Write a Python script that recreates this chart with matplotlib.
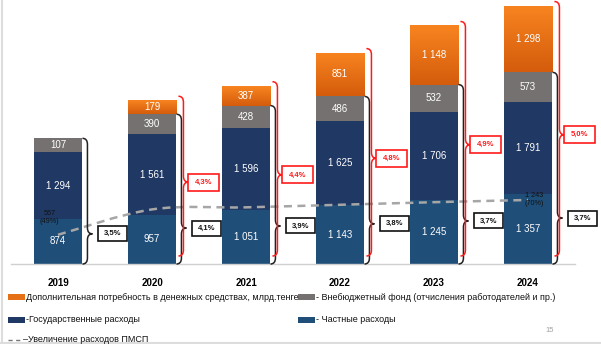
import numpy as np
import matplotlib
matplotlib.use('Agg')
import matplotlib.pyplot as plt
from matplotlib.patches import Rectangle, PathPatch
from matplotlib.path import Path
from matplotlib.lines import Line2D

plt.rcParams['font.family'] = ['Liberation Sans', 'DejaVu Sans']

# ---------------- data ----------------
years = ['2019', '2020', '2021', '2022', '2023', '2024']
private = [874, 957, 1051, 1143, 1245, 1357]
government = [1294, 1561, 1596, 1625, 1706, 1791]
offbudget = [107, 390, 428, 486, 532, 573]
additional = [0, 179, 387, 851, 1148, 1298]
black_pct = ['3,5%', '4,1%', '3,9%', '3,8%', '3,7%', '3,7%']
red_pct = [None, '4,3%', '4,4%', '4,8%', '4,9%', '5,0%']
pmsp = [567, 1060, 1100, 1150, 1200, 1243]
pmsp_first_label = '567\n(49%)'
pmsp_last_label = '1 243\n(70%)'

legend_labels = [
    'Дополнительная потребность в денежных средствах, млрд.тенге',
    '- Внебюджетный фонд (отчисления работодателей и пр.)',
    '-Государственные расходы',
    '- Частные расходы',
    '–Увеличение расходов ПМСП',
]

# ---------------- style ----------------
C_PRIV = '#1F4E79'
C_GOV = '#203864'
C_OFF = '#767171'
C_ADD_TOP = np.array([248, 132, 32]) / 255
C_ADD_BOT = np.array([212, 92, 12]) / 255
C_RED = '#FF1A1A'
C_LINE = '#A6A6A6'

W, H = 601, 344
fig = plt.figure(figsize=(W / 100, H / 100), dpi=100)
ax_left, ax_bottom, ax_w, ax_h = 11, 80, 564, 264
ax = fig.add_axes([ax_left / W, ax_bottom / H, ax_w / W, ax_h / H])
YMAX = 5126
ax.set_xlim(-0.5, 5.5)
ax.set_ylim(0, YMAX)
px_x = 6 / ax_w          # data units per pixel in x
px_y = YMAX / ax_h       # data units per pixel in y

bw = 0.52
MIN_SEG = 14 * px_y      # minimum drawn height so a label fits

def fmt(v):
    return f'{v:,}'.replace(',', ' ')

x = np.arange(len(years))
seg_tops_black = []
seg_tops_total = []
for i in range(len(years)):
    base = 0
    for vals, col in [(private, C_PRIV), (government, C_GOV), (offbudget, C_OFF), (additional, None)]:
        v = vals[i]
        if v <= 0:
            continue
        h = max(v, MIN_SEG)
        x0 = x[i] - bw / 2
        if col is None:
            rect = Rectangle((x0, base), bw, h, facecolor='none', edgecolor='none')
            ax.add_patch(rect)
            grad = np.linspace(0, 1, 64)[:, None, None]
            img = C_ADD_BOT[None, None, :] * (1 - grad) + C_ADD_TOP[None, None, :] * grad
            im = ax.imshow(img, extent=[x0, x0 + bw, base, base + h], origin='lower',
                           aspect='auto', interpolation='bilinear', zorder=2)
            im.set_clip_path(rect)
        else:
            ax.add_patch(Rectangle((x0, base), bw, h, facecolor=col, edgecolor='none', zorder=2))
        ax.text(x[i], base + h / 2, fmt(v), color='white', ha='center', va='center',
                fontsize=7, zorder=5)
        base += h
        if vals is offbudget:
            seg_tops_black.append(base)
    seg_tops_total.append(base)

ax.set_xlim(-0.5, 5.5)
ax.set_ylim(0, YMAX)


def brace(ax, xr, xv, xt, ytop, ybot, ytip, color, r):
    verts = [(xr, ytop), (xv, ytop), (xv, ytop - r),
             (xv, ytip + r), (xv, ytip), (xt, ytip),
             (xv, ytip), (xv, ytip - r),
             (xv, ybot + r), (xv, ybot), (xr, ybot)]
    codes = [Path.MOVETO, Path.CURVE3, Path.CURVE3,
             Path.LINETO, Path.CURVE3, Path.CURVE3,
             Path.CURVE3, Path.CURVE3,
             Path.LINETO, Path.CURVE3, Path.CURVE3]
    ax.add_patch(PathPatch(Path(verts, codes), facecolor='none', edgecolor=color,
                           lw=1.1, clip_on=False, zorder=4))


def box(ax, xl, yc, w, h, text, color, tcolor):
    ax.add_patch(Rectangle((xl, yc - h / 2), w, h, facecolor='white', edgecolor=color,
                           lw=1.2, clip_on=False, zorder=6))
    ax.text(xl + w / 2, yc, text, color=tcolor, ha='center', va='center', fontsize=5.5,
            fontweight='bold', zorder=7, clip_on=False)


r = 6 * px_y
for i in range(len(years)):
    R = x[i] + bw / 2
    # black brace
    yb = seg_tops_black[i]
    ytip = 0.24 * yb
    brace(ax, R, R + 5 * px_x, R + 10 * px_x, yb, 0, ytip, '#222222', r)
    box(ax, R + 16 * px_x, ytip, 29 * px_x, 15 * px_y, black_pct[i], '#111111', '#111111')
    # red brace
    if red_pct[i]:
        yt = seg_tops_total[i] + 4 * px_y
        ytip_r = 0.5 * seg_tops_total[i]
        brace(ax, R + 2 * px_x, R + 7 * px_x, R + 12 * px_x, yt, 8 * px_y, ytip_r, C_RED, r)
        box(ax, R + 12 * px_x, ytip_r, 31 * px_x, 17 * px_y, red_pct[i], C_RED, C_RED)

# smoothed dashed line through pmsp values (Catmull-Rom as Bezier)
P = np.column_stack([x, pmsp]).astype(float)
verts = [tuple(P[0])]
codes = [Path.MOVETO]
n = len(P)
for i in range(n - 1):
    p0 = P[i - 1] if i > 0 else P[i]
    p1, p2 = P[i], P[i + 1]
    p3 = P[i + 2] if i + 2 < n else P[i + 1]
    c1 = p1 + (p2 - p0) / 6
    c2 = p2 - (p3 - p1) / 6
    verts += [tuple(c1), tuple(c2), tuple(p2)]
    codes += [Path.CURVE4] * 3
ax.add_patch(PathPatch(Path(verts, codes), facecolor='none', edgecolor=C_LINE, lw=1.8,
                       linestyle=(0, (3.2, 2.2)), zorder=3))
ax.text(x[0] - 0.09, pmsp[0] + 10 * px_y, pmsp_first_label, fontsize=5.2, ha='center',
        va='bottom', color='#111111', zorder=6, linespacing=1.2)
ax.text(x[-1] + 0.07, pmsp[-1], pmsp_last_label, fontsize=5.2, ha='center',
        va='center', color='#111111', zorder=6, linespacing=1.2)

# axes styling
for s in ['top', 'right', 'left']:
    ax.spines[s].set_visible(False)
ax.spines['bottom'].set_color('#D0D0D0')
ax.spines['bottom'].set_linewidth(1.0)
ax.set_yticks([])
ax.set_xticks(x)
ax.set_xticklabels(years, fontsize=7, fontweight='bold')
ax.tick_params(axis='x', length=0, pad=10)

# legend (manual)
def fx(p):
    return p / W

def fy(p):
    return 1 - p / H

items = [
    (8, 297, tuple(C_ADD_TOP * 0.5 + C_ADD_BOT * 0.5), legend_labels[0]),
    (298, 297, C_OFF, legend_labels[1]),
    (8, 320, C_GOV, legend_labels[2]),
    (298, 320, C_PRIV, legend_labels[3]),
]
for px0, py0, col, lab in items:
    fig.patches.append(Rectangle((fx(px0), fy(py0 + 3)), 17 / W, 6 / H, facecolor=col,
                                 edgecolor='none', transform=fig.transFigure, figure=fig))
    fig.text(fx(px0 + 18), fy(py0), lab, fontsize=6.5, va='center', ha='left', color='#111111')
fig.lines.append(Line2D([fx(8), fx(22)], [fy(340), fy(340)], color='#777777', lw=1.0,
                        linestyle=(0, (3, 2.5)), transform=fig.transFigure))
fig.text(fx(23), fy(340), legend_labels[4], fontsize=6.5, va='center', ha='left', color='#111111')
fig.text(fx(550), fy(330), '15', fontsize=5.5, color='#A0A0A0', ha='center', va='center')

# frame lines
fig.lines.append(Line2D([fx(2), fx(2)], [0, 1], color='#DDDDDD', lw=1.5, transform=fig.transFigure))
fig.lines.append(Line2D([0, 1], [fy(343), fy(343)], color='#DDDDDD', lw=1.5, transform=fig.transFigure))

fig.savefig('out.png', dpi=100)
